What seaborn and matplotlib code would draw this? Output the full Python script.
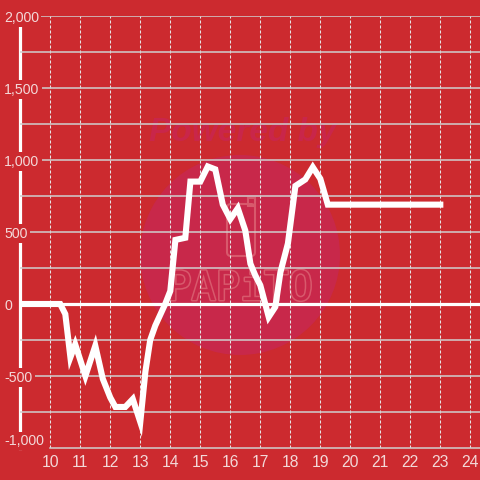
import numpy as np
import pandas as pd
import seaborn as sns
import matplotlib.pyplot as plt
import matplotlib.patheffects as pe
from matplotlib.patches import Circle, FancyBboxPatch, Rectangle
from matplotlib.ticker import MultipleLocator

# data (hour of day, running value)
hours = [9.0, 10.33, 10.5, 10.67, 10.83, 11.17, 11.5, 11.75, 12.0, 12.17,
         12.5, 12.75, 13.0, 13.17, 13.33, 13.5, 13.83, 14.0, 14.17, 14.5,
         14.67, 15.0, 15.25, 15.5, 15.75, 16.0, 16.25, 16.5, 16.67, 16.83,
         17.0, 17.28, 17.5, 17.67, 17.92, 18.17, 18.5, 18.75, 19.0, 19.25,
         23.0]
values = [0, 0, -70, -370, -280, -500, -290, -520, -650, -715,
          -715, -660, -820, -470, -250, -150, 0, 90, 445, 460,
          850, 850, 955, 935, 690, 590, 665, 510, 280, 200,
          130, -90, -20, 220, 420, 820, 865, 950, 870, 690,
          690]
x_ticks = list(range(10, 25))
y_ticks = [-1000, -500, 0, 500, 1000, 1500, 2000]
y_tick_labels = ["-1,000", "-500", "0", "500", "1,000", "1,500", "2,000"]

bg = "#cc2a2f"
txt = "#f3d8d8"

plt.rcParams["font.family"] = ["Liberation Sans", "DejaVu Sans"]

df = pd.DataFrame({"hour": hours, "value": values})

fig = plt.figure(figsize=(4.8, 4.8), dpi=100, facecolor=bg)
ax = fig.add_axes([20.3 / 480, 32 / 480, 459.7 / 480, 432 / 480])
ax.set_facecolor(bg)

# watermark
wm = "#d8596c"
ax.add_patch(Circle((2.4, 2.25), 1.0, transform=fig.dpi_scale_trans,
                    facecolor="#c8284a", edgecolor="none", zorder=1, clip_on=False))
ax.text(2.43, 3.47, "Powered by", transform=fig.dpi_scale_trans, ha="center", va="center",
        fontsize=24, fontweight="bold", fontstyle="italic", color="#c9264a", zorder=1)
ax.text(2.40, 1.91, "PAPiTO", transform=fig.dpi_scale_trans, ha="center", va="center",
        fontsize=29, family="DejaVu Sans Mono", color="#c8284a", zorder=1,
        path_effects=[pe.Stroke(linewidth=2.2, foreground=wm), pe.Normal()])
ax.add_patch(FancyBboxPatch((2.27, 2.24), 0.28, 0.52, boxstyle="round,pad=0,rounding_size=0.04",
                            transform=fig.dpi_scale_trans, facecolor="none",
                            edgecolor=wm, lw=1.5, zorder=1, clip_on=False))
ax.add_patch(Rectangle((2.48, 2.74), 0.07, 0.08, transform=fig.dpi_scale_trans,
                       facecolor="none", edgecolor=wm, lw=1.5, zorder=1, clip_on=False))

ax.axhline(0, color="white", lw=2.3, zorder=1.6)
sns.lineplot(data=df, x="hour", y="value", ax=ax, color="white", lw=4.4,
             estimator=None, sort=False, zorder=2,
             solid_capstyle="projecting", solid_joinstyle="miter")

ax.set_xlim(9, 9 + 459.7 / 30)
ax.set_ylim(-1000, 2000)
ax.set_xticks(x_ticks)
ax.set_yticks(y_ticks)
ax.set_yticklabels(y_tick_labels)
ax.yaxis.set_minor_locator(MultipleLocator(250))
ax.set_xlabel("")
ax.set_ylabel("")

ax.grid(axis="y", which="both", color="#cfcfcf", lw=1.1)
ax.grid(axis="x", which="major", color="#e6e6e6", lw=0.75, linestyle=(0, (2.9, 1.9)))
ax.tick_params(axis="both", which="both", length=0, labelcolor=txt)
ax.tick_params(axis="x", pad=5, labelsize=11.3)
ax.tick_params(axis="y", pad=11.5, labelsize=10.2)

for lbl in ax.get_yticklabels():
    lbl.set_horizontalalignment("left")
    if lbl.get_text() != "0":
        lbl.set_bbox(dict(facecolor=bg, edgecolor="none", pad=1.5))
ax.get_yticklabels()[0].set_verticalalignment("bottom")
ax.get_ygridlines()[0].set_visible(False)

for side in ["top", "right"]:
    ax.spines[side].set_visible(False)
ax.spines["left"].set_color("white")
ax.spines["left"].set_linewidth(2.3)
ax.spines["left"].set_zorder(1.4)
ax.spines["bottom"].set_color("#cfcfcf")
ax.spines["bottom"].set_linewidth(1.1)
ax.spines["bottom"].set_bounds(10, 9 + 459.7 / 30)

fig.savefig("out.png", dpi=100, facecolor=bg)
